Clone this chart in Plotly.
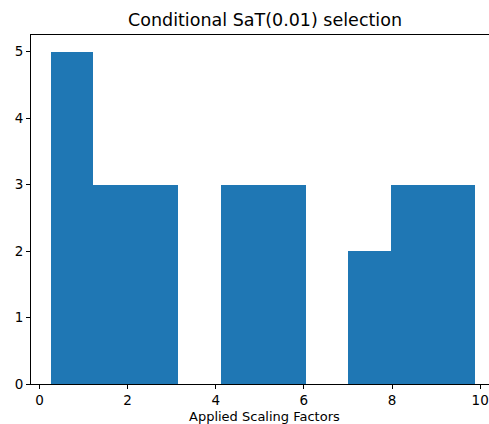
import plotly.graph_objects as go

# Histogram data
bin_edges = [0.26, 1.22, 2.19, 3.15, 4.11, 5.08, 6.04, 7.00, 7.97, 8.93, 9.89]
counts = [5, 3, 3, 0, 3, 3, 0, 2, 3, 3]
x_ticks = [0, 2, 4, 6, 8, 10]
y_ticks = [0, 1, 2, 3, 4, 5]
title = "Conditional SaT(0.01) selection"
xlabel = "Applied Scaling Factors"

centers = [(bin_edges[i] + bin_edges[i + 1]) / 2 for i in range(len(counts))]
widths = [bin_edges[i + 1] - bin_edges[i] for i in range(len(counts))]

fig = go.Figure(go.Bar(x=centers, y=counts, width=widths,
                       marker=dict(color="#1f77b4", line=dict(width=0))))

font = dict(family="DejaVu Sans", size=13.5, color="black")
fig.update_layout(
    width=489, height=424,
    margin=dict(l=31, r=0, t=35, b=40),
    plot_bgcolor="white", paper_bgcolor="white",
    bargap=0, showlegend=False, font=font,
    xaxis=dict(range=[-0.193, 10.20], tickvals=x_ticks, showgrid=False, zeroline=False,
               showline=True, linecolor="black", linewidth=1, mirror=True,
               ticks="outside", ticklen=4, tickcolor="black", tickfont=font),
    yaxis=dict(range=[0, 5.25], tickvals=y_ticks, showgrid=False, zeroline=False,
               showline=True, linecolor="black", linewidth=1,
               ticks="outside", ticklen=4, tickcolor="black", tickfont=font),
    annotations=[
        dict(text=title, xref="paper", yref="paper", x=0.51, y=1.043,
             xanchor="center", yanchor="middle", showarrow=False,
             font=dict(family="DejaVu Sans", size=17.5, color="black")),
        dict(text=xlabel, xref="paper", yref="paper", x=0.51, y=-0.092,
             xanchor="center", yanchor="middle", showarrow=False,
             font=dict(family="DejaVu Sans", size=13, color="black")),
    ],
)

fig.write_html("out.html")
